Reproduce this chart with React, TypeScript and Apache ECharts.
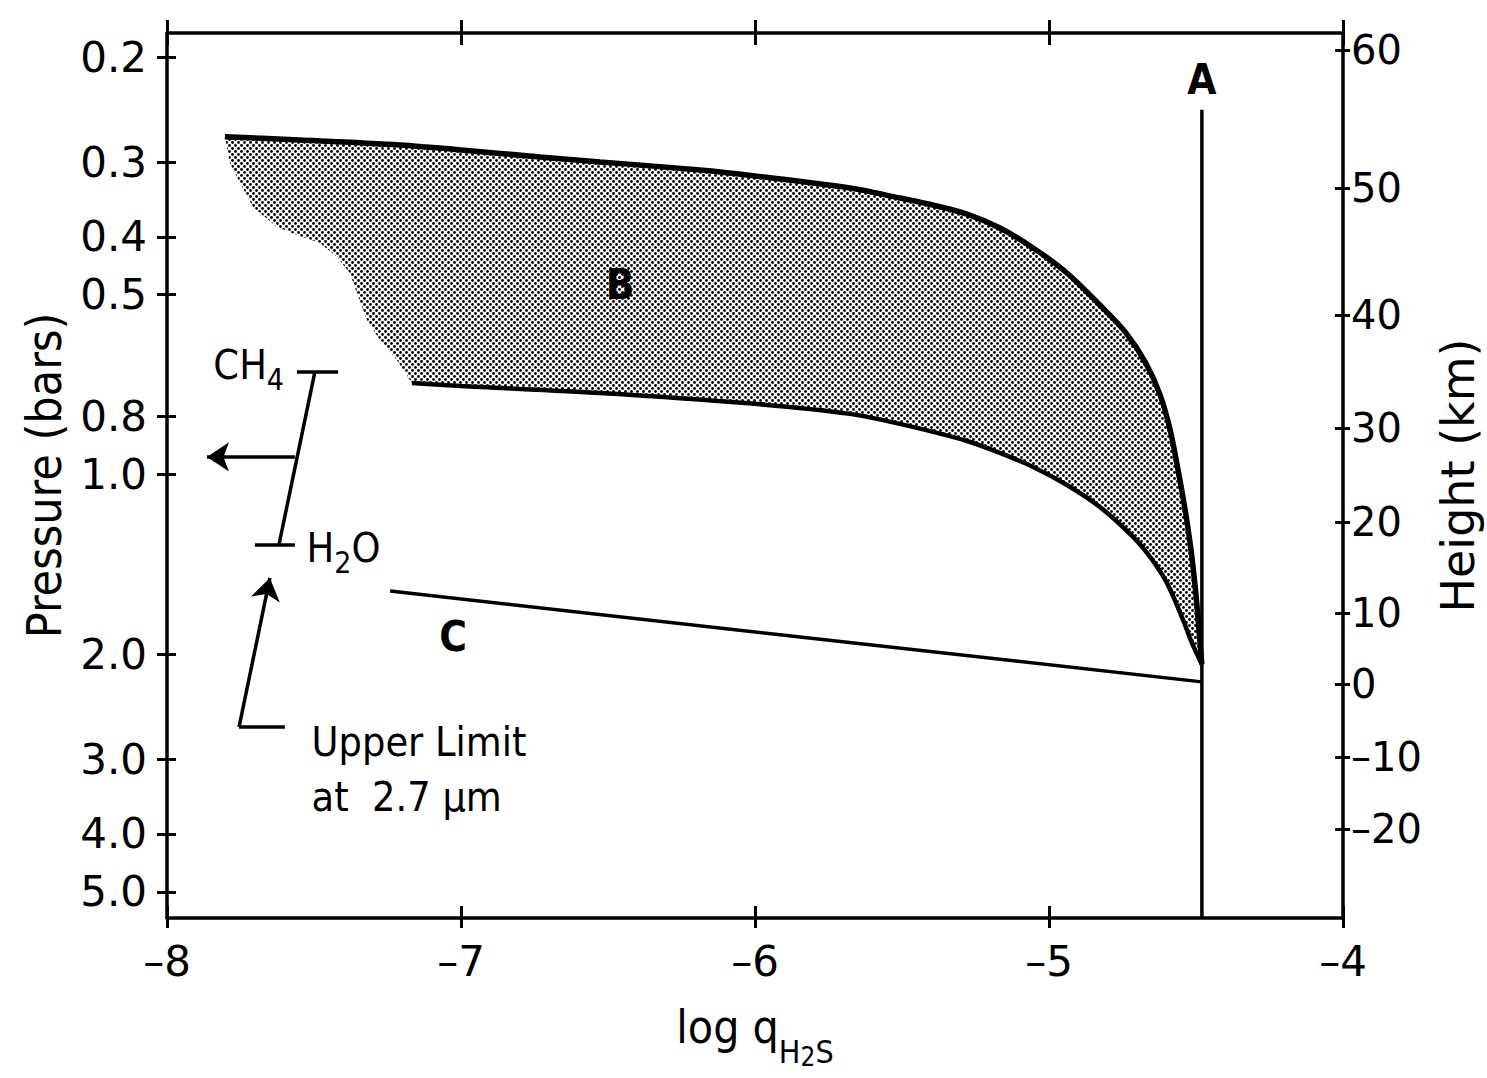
import React, { useEffect, useRef } from "react";
import * as echarts from "echarts";

// ---------- data ----------
const X_MIN = -8;
const X_MAX = -4;
const P_TOP = 0.1823; // pressure at top edge of plot (bars)
const P_BOTTOM = 5.53; // pressure at bottom edge of plot (bars)

const pressureTicks = [0.2, 0.3, 0.4, 0.5, 0.8, 1.0, 2.0, 3.0, 4.0, 5.0];
const heightLabels = [60, 50, 40, 30, 20, 10, 0, -10, -20];
const heightTickPressures = [0.1947, 0.3314, 0.5405, 0.8359, 1.201, 1.705, 2.242, 2.971, 3.923];

// Region B: upper boundary [log q, pressure], left to right
const regionBUpper: [number, number][] = [
  [-7.803, 0.272], [-7.548, 0.2754], [-7.207, 0.2808], [-7.0, 0.2862], [-6.731, 0.294],
  [-6.527, 0.2997], [-6.187, 0.3092], [-6.0, 0.3164], [-5.677, 0.3314], [-5.507, 0.3445],
  [-5.395, 0.3539], [-5.279, 0.3664], [-5.167, 0.3867], [-5.054, 0.4175], [-4.939, 0.4599],
  [-4.827, 0.5202], [-4.741, 0.5771], [-4.673, 0.6478], [-4.622, 0.7359], [-4.588, 0.8424],
  [-4.561, 0.9826], [-4.537, 1.1465], [-4.517, 1.3377], [-4.5, 1.591], [-4.49, 1.821],
  [-4.48, 2.08],
];
// Region B: lower boundary, left to right
const regionBLower: [number, number][] = [
  [-7.167, 0.7028], [-7.0, 0.711], [-6.527, 0.7303], [-6.0, 0.7617], [-5.677, 0.7917],
  [-5.507, 0.823], [-5.279, 0.8789], [-5.167, 0.9203], [-5.054, 0.9714], [-4.939, 1.0413],
  [-4.827, 1.1335], [-4.714, 1.2724], [-4.656, 1.3743], [-4.599, 1.5192], [-4.544, 1.7522],
  [-4.514, 1.9148], [-4.48, 2.08],
];
// Region B: left (unlined) edge, top to bottom
const regionBLeftEdge: [number, number][] = [
  [-7.786, 0.3009], [-7.752, 0.3248], [-7.707, 0.3566], [-7.626, 0.3851], [-7.558, 0.3972],
  [-7.48, 0.4097], [-7.422, 0.4322], [-7.378, 0.4599], [-7.354, 0.4967], [-7.32, 0.5512],
  [-7.276, 0.5954], [-7.218, 0.6432],
];

const lineA: [number, number][] = [[-4.48, 0.245], [-4.48, P_BOTTOM]];
const lineC: [number, number][] = [[-7.241, 1.567], [-5.847, 1.871], [-4.48, 2.225]];

const curveLabels = [
  { text: "A", x: -4.48, p: 0.2185 },
  { text: "B", x: -6.459, p: 0.4816 },
  { text: "C", x: -7.027, p: 1.871 },
];

const bracketSegments: [number, number][][] = [
  [[-7.558, 0.6736], [-7.418, 0.6736]],
  [[-7.497, 0.6736], [-7.619, 1.31]],
  [[-7.701, 1.31], [-7.565, 1.31]],
  [[-7.599, 2.65], [-7.755, 2.65]],
];
const arrowSegments: [number, number][][] = [
  [[-7.565, 0.9347], [-7.864, 0.9347]],
  [[-7.755, 2.65], [-7.65, 1.49]],
];

const annotationTexts = [
  { text: "{m|CH}{s|4}", x: -7.844, p: 0.6556 },
  { text: "{m|H}{s|2}{m|O}", x: -7.527, p: 1.327 },
  { text: "{m|Upper Limit}", x: -7.51, p: 2.804 },
  { text: "{m|at  2.7 μm}", x: -7.51, p: 3.467 },
];

// ---------- helpers ----------
const lg = (p: number) => Math.log10(p);
const toXY = (pts: [number, number][]) => pts.map(([x, p]) => [x, lg(p)]);
const dash = (v: number) => (v < 0 ? "–" + Math.abs(v) : String(v));

const NUM_FONT = "DejaVu Sans";
const TXT_FONT = "'DejaVu Sans Condensed', 'DejaVu Sans'";

function makeStipple() {
  const c = document.createElement("canvas");
  c.width = 6;
  c.height = 6;
  const ctx = c.getContext("2d")!;
  ctx.fillStyle = "#ffffff";
  ctx.fillRect(0, 0, 6, 6);
  ctx.fillStyle = "#000000";
  for (const [x, y] of [[1.5, 1.5], [4.5, 4.5]]) {
    ctx.beginPath();
    ctx.arc(x, y, 1.4, 0, Math.PI * 2);
    ctx.fill();
  }
  return c;
}

export default function App() {
  const ref = useRef<HTMLDivElement>(null);

  useEffect(() => {
    if (!ref.current) return;
    const chart = echarts.init(ref.current, null, { renderer: "svg" });
    const pattern: any = { image: makeStipple(), repeat: "repeat", imageWidth: 6, imageHeight: 6 };

    const polygonB = [
      ...regionBUpper,
      ...regionBLower.slice(0, -1).reverse(),
      ...regionBLeftEdge.slice().reverse(),
    ];
    const polygonData = toXY(polygonB);

    const yMin = lg(P_TOP);
    const yMax = lg(P_BOTTOM);
    const black = "#000";
    const axisLine = { show: true, onZero: false, lineStyle: { color: black, width: 3.5 } };
    const tickStyle = { color: black, width: 3 };

    const heightFormatter = (v: number) => {
      let best = 0;
      heightTickPressures.forEach((p, i) => {
        if (Math.abs(lg(p) - v) < Math.abs(lg(heightTickPressures[best]) - v)) best = i;
      });
      return dash(heightLabels[best]);
    };

    const xBase = { type: "value", min: X_MIN, max: X_MAX, interval: 1, splitLine: { show: false } };
    const yBase = { type: "value", min: yMin, max: yMax, inverse: true, splitLine: { show: false } };
    const hiddenItem = { color: "rgba(0,0,0,0)", opacity: 1 };

    const option: any = {
      animation: false,
      backgroundColor: "#fff",
      grid: { left: 167, right: 144, top: 33, bottom: 160, containLabel: false, outerBoundsMode: "none" },
      xAxis: [
        {
          ...xBase,
          position: "bottom",
          axisLine,
          axisTick: { show: true, length: 10, lineStyle: tickStyle },
          axisLabel: { formatter: (v: number) => dash(v), fontSize: 42, color: black, margin: 22, fontFamily: NUM_FONT },
          name: "{m|log q}{s|H}{ss|2}{s|S}",
          nameLocation: "middle",
          nameGap: 86,
          nameTextStyle: {
            color: black,
            rich: {
              m: { fontSize: 46, lineHeight: 46, verticalAlign: "top", fontFamily: TXT_FONT, color: black },
              s: { fontSize: 32, lineHeight: 32, verticalAlign: "top", padding: [32, 0, 0, 0], fontFamily: TXT_FONT, color: black },
              ss: { fontSize: 26, lineHeight: 26, verticalAlign: "top", padding: [40, 0, 0, 0], fontFamily: TXT_FONT, color: black },
            },
          },
        },
        {
          ...xBase,
          position: "bottom",
          axisLine: { show: false, onZero: false },
          axisTick: { show: true, inside: true, length: 12, lineStyle: tickStyle },
          axisLabel: { show: false },
        },
        {
          ...xBase,
          position: "top",
          axisLine,
          axisTick: { show: true, length: 13, lineStyle: tickStyle },
          axisLabel: { show: false },
        },
        {
          ...xBase,
          position: "top",
          axisLine: { show: false, onZero: false },
          axisTick: { show: true, inside: true, length: 12, lineStyle: tickStyle },
          axisLabel: { show: false },
        },
      ],
      yAxis: [
        {
          ...yBase,
          position: "left",
          axisLine,
          axisTick: { show: true, length: 10, lineStyle: tickStyle, customValues: pressureTicks.map(lg) },
          axisLabel: {
            customValues: pressureTicks.map(lg),
            formatter: (v: number) => Math.pow(10, v).toFixed(1),
            fontSize: 42,
            color: black,
            margin: 20,
            fontFamily: NUM_FONT,
          },
          name: "Pressure (bars)",
          nameLocation: "middle",
          nameGap: 99,
          nameTextStyle: { fontSize: 48, color: black, fontFamily: TXT_FONT },
        },
        {
          ...yBase,
          position: "left",
          axisLine: { show: false, onZero: false },
          axisTick: { show: true, inside: true, length: 9, lineStyle: tickStyle, customValues: pressureTicks.map(lg) },
          axisLabel: { show: false },
        },
        {
          ...yBase,
          position: "right",
          axisLine,
          axisTick: { show: true, length: 7, lineStyle: tickStyle, customValues: heightTickPressures.map(lg) },
          axisLabel: {
            customValues: heightTickPressures.map(lg),
            formatter: heightFormatter,
            fontSize: 40,
            color: black,
            margin: 8,
            fontFamily: NUM_FONT,
          },
          name: "Height (km)",
          nameLocation: "middle",
          nameGap: 92,
          nameTextStyle: { fontSize: 46, color: black, fontFamily: NUM_FONT },
        },
        {
          ...yBase,
          position: "right",
          axisLine: { show: false, onZero: false },
          axisTick: { show: true, inside: true, length: 8, lineStyle: tickStyle, customValues: heightTickPressures.map(lg) },
          axisLabel: { show: false },
        },
      ],
      series: [
        {
          type: "custom",
          name: "B area",
          coordinateSystem: "cartesian2d",
          xAxisIndex: 0,
          yAxisIndex: 0,
          data: polygonData,
          clip: false,
          silent: true,
          renderItem: (params: any, api: any) => {
            if (params.dataIndex !== 0) return null;
            return {
              type: "polygon",
              shape: { points: polygonData.map((d) => api.coord(d)) },
              style: { fill: pattern, stroke: null },
            };
          },
        },
        {
          type: "line",
          name: "B upper",
          data: toXY(regionBUpper),
          showSymbol: false,
          smooth: 0.3,
          clip: false,
          lineStyle: { color: black, width: 5.5 },
        },
        {
          type: "line",
          name: "B lower",
          data: toXY(regionBLower),
          showSymbol: false,
          smooth: 0.3,
          clip: false,
          lineStyle: { color: black, width: 4.5 },
        },
        {
          type: "line",
          name: "A",
          data: toXY(lineA),
          showSymbol: false,
          clip: false,
          lineStyle: { color: black, width: 3.5 },
        },
        {
          type: "line",
          name: "C",
          data: toXY(lineC),
          showSymbol: false,
          clip: false,
          lineStyle: { color: black, width: 3.5 },
        },
        {
          type: "lines",
          name: "brackets",
          coordinateSystem: "cartesian2d",
          xAxisIndex: 0,
          yAxisIndex: 0,
          symbol: ["none", "none"],
          lineStyle: { color: black, width: 3.5, opacity: 1, curveness: 0 },
          data: bracketSegments.map((s) => ({ coords: toXY(s) })),
        },
        {
          type: "lines",
          name: "arrows",
          coordinateSystem: "cartesian2d",
          xAxisIndex: 0,
          yAxisIndex: 0,
          symbol: ["none", "arrow"],
          symbolSize: 22,
          lineStyle: { color: black, width: 3.5, opacity: 1, curveness: 0 },
          data: arrowSegments.map((s) => ({ coords: toXY(s) })),
        },
        {
          type: "scatter",
          name: "curve labels",
          symbolSize: 1,
          itemStyle: hiddenItem,
          data: curveLabels.map((l) => ({ name: l.text, value: [l.x, lg(l.p)] })),
          label: {
            show: true,
            position: "inside",
            formatter: "{b}",
            fontSize: 42,
            fontWeight: "bold",
            color: black,
            opacity: 1,
            fontFamily: TXT_FONT,
          },
        },
        {
          type: "scatter",
          name: "annotations",
          symbolSize: 1,
          itemStyle: hiddenItem,
          data: annotationTexts.map((l) => ({ name: l.text, value: [l.x, lg(l.p)] })),
          label: {
            show: true,
            position: "right",
            distance: 0,
            formatter: "{b}",
            color: black,
            opacity: 1,
            rich: {
              m: { fontSize: 41, lineHeight: 41, verticalAlign: "top", fontFamily: TXT_FONT, color: black },
              s: { fontSize: 30, lineHeight: 30, verticalAlign: "top", padding: [20, 0, 0, 0], fontFamily: TXT_FONT, color: black },
            },
          },
        },
      ],
    };

    chart.setOption(option);
    return () => chart.dispose();
  }, []);

  return (
    <div
      ref={ref}
      style={{ position: "fixed", left: 0, top: 0, width: 1487, height: 1078, background: "#fff" }}
    />
  );
}
